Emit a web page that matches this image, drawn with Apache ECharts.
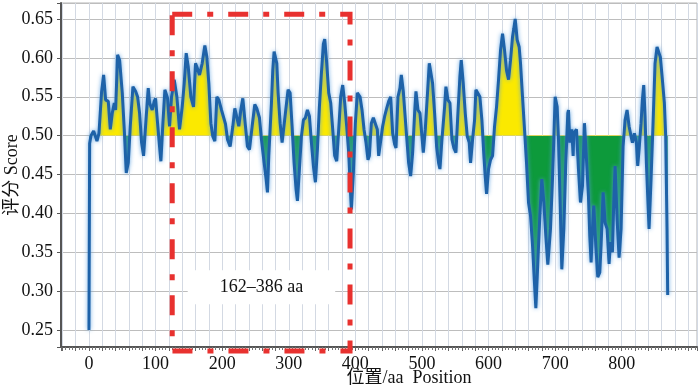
<!DOCTYPE html>
<html>
<head>
<meta charset="utf-8">
<script src="https://cdn.jsdelivr.net/npm/echarts@6/dist/echarts.min.js"></script>
<style>
  html, body { margin: 0; padding: 0; background: #fff; }
  #chart { width: 700px; height: 388px; }
</style>
</head>
<body>
<div id="chart"></div>
<script>
// position (aa) and score
const positions = [0, 1, 3, 7, 12, 15, 19, 22, 25, 29, 32, 35, 38, 40, 43, 46, 50, 53, 56, 59,
  62, 66, 70, 73, 76, 79, 82, 86, 89, 91, 95, 98, 100, 103, 106, 108, 111, 114, 118, 121,
  124, 128, 132, 136, 140, 143, 146, 149, 153, 157, 160, 163, 166, 170, 174, 177, 180, 183, 186, 189,
  192, 195, 199, 202, 205, 208, 212, 216, 219, 222, 225, 228, 231, 235, 238, 241, 245, 249, 252, 256,
  259, 263, 266, 268, 270, 274, 276, 278, 282, 284, 287, 290, 293, 296, 299, 302, 305, 308, 311, 313,
  316, 319, 322, 325, 328, 331, 334, 337, 340, 343, 346, 349, 352, 354, 357, 360, 363, 366, 369, 372,
  375, 378, 381, 384, 387, 390, 392, 394, 397, 400, 403, 407, 410, 413, 416, 419, 421, 424, 427, 430,
  433, 435, 438, 441, 444, 447, 450, 453, 456, 459, 461, 464, 467, 469, 472, 474, 477, 480, 483, 486,
  489, 491, 494, 497, 500, 502, 505, 508, 511, 514, 516, 519, 522, 525, 527, 530, 534, 536, 539, 542,
  545, 548, 551, 554, 557, 559, 562, 565, 568, 571, 573, 576, 579, 581, 584, 587, 590, 593, 595, 597,
  600, 603, 606, 609, 612, 615, 618, 621, 624, 627, 630, 633, 636, 638, 640, 643, 646, 648, 651, 654,
  657, 660, 663, 666, 669, 671, 674, 677, 680, 683, 686, 689, 693, 696, 698, 700, 703, 705, 708, 710,
  713, 716, 719, 720, 722, 725, 727, 728, 732, 735, 738, 741, 744, 746, 750, 752, 754, 756, 758, 761,
  764, 767, 769, 772, 775, 778, 781, 783, 786, 788, 790, 793, 796, 799, 802, 805, 808, 811, 814, 816,
  819, 822, 824, 826, 829, 831, 833, 835, 837, 839, 841, 844, 847, 850, 853, 855, 858, 861, 864, 866,
  868, 869];
const scores = [0.25, 0.49, 0.50, 0.506, 0.493, 0.503, 0.557, 0.578, 0.546, 0.544, 0.508, 0.529, 0.542, 0.533, 0.604, 0.597, 0.555, 0.508, 0.452, 0.465,
  0.512, 0.563, 0.557, 0.55, 0.529, 0.491, 0.474, 0.525, 0.561, 0.542, 0.533, 0.544, 0.548, 0.516, 0.486, 0.467, 0.516, 0.559, 0.548, 0.512,
  0.55, 0.572, 0.55, 0.508, 0.537, 0.567, 0.606, 0.589, 0.55, 0.537, 0.593, 0.586, 0.578, 0.593, 0.616, 0.601, 0.567, 0.516, 0.499, 0.493,
  0.55, 0.546, 0.533, 0.533, 0.515, 0.495, 0.486, 0.512, 0.535, 0.533, 0.512, 0.533, 0.548, 0.512, 0.486, 0.482, 0.512, 0.540, 0.535, 0.523,
  0.495, 0.465, 0.444, 0.427, 0.474, 0.542, 0.584, 0.608, 0.593, 0.555, 0.516, 0.491, 0.491, 0.537, 0.559, 0.555, 0.512, 0.465, 0.431, 0.416,
  0.457, 0.499, 0.520, 0.523, 0.533, 0.525, 0.491, 0.461, 0.440, 0.482, 0.537, 0.580, 0.618, 0.624, 0.593, 0.555, 0.542, 0.508, 0.474, 0.467,
  0.508, 0.55, 0.565, 0.542, 0.512, 0.478, 0.440, 0.405, 0.452, 0.516, 0.555, 0.55, 0.533, 0.508, 0.491, 0.469, 0.474, 0.516, 0.523, 0.525,
  0.508, 0.474, 0.472, 0.512, 0.525, 0.535, 0.544, 0.55, 0.503, 0.489, 0.484, 0.55, 0.561, 0.578, 0.557, 0.533, 0.499, 0.465, 0.448, 0.478,
  0.529, 0.557, 0.533, 0.529, 0.499, 0.478, 0.508, 0.55, 0.593, 0.591, 0.567, 0.529, 0.486, 0.465, 0.457, 0.495, 0.537, 0.563, 0.546, 0.542,
  0.495, 0.484, 0.478, 0.529, 0.576, 0.597, 0.567, 0.529, 0.499, 0.491, 0.465, 0.495, 0.520, 0.559, 0.559, 0.55, 0.520, 0.474, 0.448, 0.425,
  0.457, 0.469, 0.474, 0.512, 0.537, 0.572, 0.610, 0.631, 0.610, 0.584, 0.572, 0.597, 0.627, 0.638, 0.650, 0.623, 0.614, 0.593, 0.55, 0.508,
  0.465, 0.414, 0.397, 0.359, 0.31, 0.278, 0.337, 0.397, 0.444, 0.414, 0.371, 0.334, 0.380, 0.444, 0.495, 0.55, 0.537, 0.495, 0.397, 0.328,
  0.380, 0.465, 0.529, 0.533, 0.491, 0.508, 0.474, 0.503, 0.508, 0.457, 0.414, 0.435, 0.516, 0.486, 0.422, 0.371, 0.337, 0.380, 0.410, 0.359,
  0.318, 0.324, 0.359, 0.427, 0.388, 0.380, 0.335, 0.363, 0.350, 0.414, 0.461, 0.393, 0.343, 0.380, 0.486, 0.520, 0.533, 0.512, 0.499, 0.491,
  0.503, 0.491, 0.461, 0.482, 0.516, 0.546, 0.565, 0.525, 0.465, 0.422, 0.380, 0.444, 0.516, 0.593, 0.614, 0.616, 0.601, 0.572, 0.542, 0.499,
  0.380, 0.295];

const threshold = 0.5;
const xLabels = [0, 100, 200, 300, 400, 500, 600, 700, 800];
const yLabels = [0.25, 0.30, 0.35, 0.40, 0.45, 0.50, 0.55, 0.60, 0.65];
const boxX = [125, 392];      // red dashed frame, aa
const boxY = [0.223, 0.656];  // red dashed frame, score
const labelText = '162–386 aa';
const labelAt = [259, 0.305];

const font = '"Liberation Serif", "Noto Sans CJK SC", serif';
const points = positions.map((p, i) => [p, scores[i]]);

const chart = echarts.init(document.getElementById('chart'));
const option = {
  animation: false,
  grid: {
    left: 61, right: 3, top: 3, bottom: 41,
    outerBoundsMode: 'none',
    show: true, borderColor: '#b4b4b4', borderWidth: 1,
  },
  visualMap: {
    show: false,
    type: 'piecewise',
    seriesIndex: 0,
    dimension: 1,
    pieces: [
      { gt: threshold, lte: 1, color: '#fbe900' },
      { gte: 0, lte: threshold, color: '#0d9a3b' },
    ],
  },
  xAxis: {
    type: 'value',
    min: -42,
    max: 913,
    splitNumber: 48,
    name: '位置/aa  Position',
    nameLocation: 'middle',
    nameGap: 22,
    nameMoveOverlap: false,
    nameTextStyle: { fontFamily: font, fontSize: 18, color: '#111', padding: [0, 0, 0, 60] },
    axisLine: { onZero: false, lineStyle: { color: '#555', width: 2 } },
    axisTick: { length: 4, lineStyle: { color: '#666' } },
    minorTick: { show: true, splitNumber: 4, length: 3, lineStyle: { color: '#777' } },
    axisLabel: {
      fontFamily: font, fontSize: 18, color: '#111', margin: 8,
      formatter: v => (xLabels.includes(v) ? String(v) : ''),
    },
    splitLine: { lineStyle: { color: '#d3d9e3', width: 1 } },
  },
  yAxis: {
    type: 'value',
    min: 0.2281,
    max: 0.6706,
    splitNumber: 9,
    name: '评分 Score',
    nameLocation: 'middle',
    nameGap: 40,
    nameMoveOverlap: false,
    nameTextStyle: { fontFamily: font, fontSize: 18, color: '#111' },
    axisLine: { onZero: false, lineStyle: { color: '#555', width: 2 } },
    axisTick: { length: 4, lineStyle: { color: '#555' } },
    axisLabel: {
      fontFamily: font, fontSize: 18, color: '#111', margin: 8,
      formatter: v => {
        const hit = yLabels.find(t => Math.abs(t - v) < 1e-6);
        return hit !== undefined ? hit.toFixed(2) : '';
      },
    },
    splitLine: { lineStyle: { color: '#bdbdbd', width: 1 } },
  },
  series: [
    {
      // filled area, yellow above 0.5, green below
      type: 'line',
      data: points,
      symbol: 'none',
      lineStyle: { width: 0 },
      areaStyle: { origin: threshold, opacity: 1 },
      z: 2,
    },
    {
      type: 'line',
      data: points,
      symbol: 'none',
      lineStyle: { color: '#1e62a8', width: 3, shadowColor: 'rgba(90,160,225,0.9)', shadowBlur: 4 },
      z: 3,
    },
  ],
};
chart.setOption(option);

// annotation frame + label, placed through the axes
const p0 = chart.convertToPixel({ gridIndex: 0 }, [boxX[0], boxY[1]]);
const p1 = chart.convertToPixel({ gridIndex: 0 }, [boxX[1], boxY[0]]);
const lp = chart.convertToPixel({ gridIndex: 0 }, labelAt);
chart.setOption({
  graphic: [
    {
      type: 'text',
      x: lp[0],
      y: lp[1],
      z: 10,
      style: {
        text: labelText,
        font: '18px ' + font,
        fill: '#111',
        align: 'center',
        verticalAlign: 'middle',
        backgroundColor: '#fff',
        padding: [8, 32, 8, 32],
      },
    },
    {
      type: 'rect',
      z: 11,
      shape: { x: p0[0], y: p0[1], width: p1[0] - p0[0], height: p1[1] - p0[1] },
      style: { fill: null, stroke: '#e8312f', lineWidth: 5, lineDash: [20, 15, 6, 15] },
    },
  ],
});
</script>
</body>
</html>
